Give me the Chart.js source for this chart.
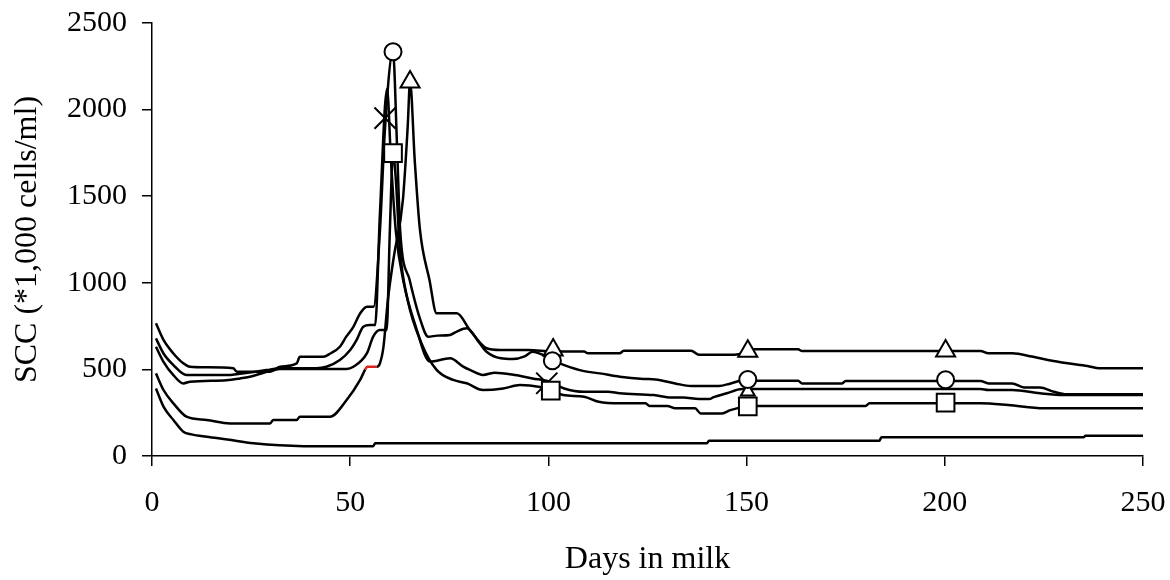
<!DOCTYPE html>
<html>
<head>
<meta charset="utf-8">
<title>SCC by days in milk</title>
<script src="https://cdn.jsdelivr.net/npm/chart.js@4.4.1/dist/chart.umd.min.js"></script>
<style>
  html, body { margin: 0; padding: 0; background: #fff; }
  #chart { display: block; }
</style>
</head>
<body>
<canvas id="chart" width="1170" height="580"></canvas>
<script>
// ── Data ──

const xTicks = [0, 50, 100, 150, 200, 250];
const yTicks = [0, 500, 1000, 1500, 2000, 2500];

// curve with the circle markers
const circleDays = [1, 2.9, 5.4, 7.9, 9.6, 13.8, 20.5, 21.4, 29.8, 32.3, 36.5, 37.3, 43.2, 45, 47.4, 49, 50.8, 52.5, 54.2, 55.9, 57.5, 58.8, 60.8, 61.8, 62.6, 65, 67.5, 69.7, 72, 75.2, 77, 79.4, 82.7, 84.4, 88, 91, 94, 96, 98, 101, 104, 109, 113, 118, 124, 127, 132, 136, 143, 146, 150, 152, 163, 164, 174, 175, 209, 211, 217, 220, 224, 227.5, 230.7, 250];
const circleSCC = [766, 670, 592, 535, 515, 512, 506, 487, 487, 515, 535, 573, 573, 592, 631, 689, 746, 823, 862, 862, 1300, 1900, 2334, 1800, 1305, 1016, 800, 689, 695, 699, 720, 737, 650, 602, 564, 560, 575, 602, 590, 554, 525, 490, 477, 458, 445, 442, 419, 404, 404, 419, 442, 435, 435, 419, 419, 433, 433, 419, 419, 396, 396, 371, 356, 356];

// curve with the triangle markers (late peak)
const triDays = [1, 2.9, 5.4, 8.7, 13.8, 19.7, 29.8, 30.6, 36.5, 37.3, 44.9, 49.1, 52.5, 53.8, 54.3, 56.7, 57.5, 58.4, 59.5, 61, 63.3, 64.5, 65.1, 66.3, 67.6, 70, 71.8, 76.9, 80.2, 84.4, 87.8, 95, 101, 109, 110, 118, 119, 136, 138, 147, 150, 152, 163, 164, 209, 211, 217, 222, 226, 231, 236, 239, 250];
const triSCC = [477, 381, 304, 227, 208, 188, 188, 208, 208, 227, 227, 323, 439, 500, 515, 515, 535, 631, 900, 1150, 1480, 1900, 2160, 1700, 1305, 1016, 824, 824, 727, 622, 612, 612, 603, 603, 593, 593, 608, 608, 585, 585, 600, 616, 616, 606, 606, 593, 593, 574, 554, 535, 520, 506, 506];

// curve with the cross markers
const crossDays = [1, 2.9, 5.4, 8.7, 18.8, 22.2, 25.6, 28.9, 32.3, 41.5, 44, 47.4, 50, 51.6, 53.3, 55, 56.3, 57.5, 59.3, 60.3, 61.5, 63.5, 66.5, 70.1, 75.2, 78.5, 80.2, 83.5, 86.5, 91.5, 96, 100.3, 104, 109, 115, 118, 126.6, 131, 134, 138, 140.6, 141.7, 145, 148.8, 209, 211, 217, 224, 230, 250];
const crossSCC = [679, 592, 525, 467, 467, 475, 485, 496, 506, 506, 515, 554, 612, 669, 746, 756, 756, 1400, 2120, 1700, 1300, 1000, 750, 545, 564, 516, 497, 468, 481, 468, 448, 429, 390, 371, 371, 362, 352, 338, 338, 329, 329, 340, 362, 387, 387, 381, 381, 362, 352, 352];

// curve with the square markers
const squareDays = [1, 2.9, 5.4, 7.9, 9.6, 18.8, 22.2, 24.7, 30.6, 32.3, 49.1, 50.8, 54.2, 55.8, 57.5, 59.2, 60, 60.8, 61.5, 62.5, 64.5, 68, 71.8, 76, 79.4, 83.5, 88.6, 92.8, 97.9, 100.4, 103.7, 109, 112.7, 118, 124.5, 125.5, 130, 132, 137, 138.4, 143.8, 145.9, 150, 152, 180, 181, 209, 216, 225, 250];
const squareSCC = [631, 544, 467, 419, 429, 438, 448, 458, 496, 502, 502, 515, 592, 689, 727, 727, 1300, 1749, 1600, 1200, 900, 650, 497, 439, 420, 381, 390, 410, 398, 381, 352, 342, 313, 304, 304, 289, 289, 275, 275, 246, 246, 265, 285, 289, 289, 304, 304, 294, 275, 275];

// lowest curve, no markers
const lowDays = [1, 2.9, 5.4, 7.9, 10, 13.8, 19, 25.6, 38.2, 55.8, 56.3, 140, 140.5, 183.5, 184, 235, 235.5, 250];
const lowSCC = [390, 285, 208, 140, 125, 111, 95, 73, 57, 57, 73, 73, 88, 88, 108, 108, 117, 117];

// marker positions
const circleMarkDays = [60.8, 101, 150.3, 200.2];
const circleMarkSCC = [2334, 550, 442, 440];
const triMarkDays = [65.1, 101.2, 150.3, 200.2];
const triMarkSCC = [2160, 612, 605, 606];
const squareMarkDays = [60.8, 100.6, 150.3, 200.2];
const squareMarkSCC = [1749, 377, 287, 308];
const crossMarkDays = [58.8, 99.6];
const crossMarkSCC = [1951, 420];
const extraTriDays = [150.3];
const extraTriSCC = [372];

// ── Helpers ──

const FONT = "'Liberation Serif', 'Times New Roman', serif";
const pts = (xs, ys) => xs.map((x, i) => ({ x, y: ys[i] }));

function lineSet(label, days, scc, extra) {
  return Object.assign({
    label,
    data: pts(days, scc),
    borderColor: "#000",
    borderWidth: 2.5,
    pointRadius: 0,
    fill: false,
    cubicInterpolationMode: "monotone",
    order: 10,
  }, extra || {});
}

function markSet(label, days, scc, style, radius, order) {
  return {
    label,
    data: pts(days, scc),
    showLine: false,
    pointStyle: style,
    pointRadius: radius,
    pointBackgroundColor: "#fff",
    pointBorderColor: "#000",
    pointBorderWidth: 2,
    order,
  };
}

const redBit = (c) => (c.p0.parsed.x >= 53.8 && c.p0.parsed.x < 56.7 ? "#e0201b" : undefined);

// fixed axis boxes so the plot area sits where it does in the figure
function fitAxis(size, key) {
  return (s) => {
    s[key] = size;
    s.paddingTop = 0;
    s.paddingBottom = 0;
    s.paddingLeft = 0;
    s.paddingRight = 0;
  };
}

new Chart(document.getElementById("chart"), {
  type: "line",
  data: {
    datasets: [
      lineSet("circle", circleDays, circleSCC),
      lineSet("triangle", triDays, triSCC, { segment: { borderColor: redBit } }),
      lineSet("cross", crossDays, crossSCC),
      lineSet("square", squareDays, squareSCC),
      lineSet("low", lowDays, lowSCC),
      markSet("extra triangle", extraTriDays, extraTriSCC, "triangle", 8, 3),
      markSet("circle marks", circleMarkDays, circleMarkSCC, "circle", 8.5, 1),
      markSet("triangle marks", triMarkDays, triMarkSCC, "triangle", 11, 1),
      markSet("square marks", squareMarkDays, squareMarkSCC, "rect", 12.5, 1),
      markSet("cross marks", crossMarkDays, crossMarkSCC, "crossRot", 15, 1),
    ],
  },
  options: {
    responsive: false,
    animation: false,
    devicePixelRatio: 1,
    layout: { autoPadding: false, padding: { top: 23, right: 27, left: 0, bottom: 0 } },
    plugins: { legend: { display: false }, tooltip: { enabled: false } },
    scales: {
      x: {
        type: "linear",
        min: 0,
        max: 250,
        afterBuildTicks: (s) => { s.ticks = xTicks.map((v) => ({ value: v })); },
        afterFit: fitAxis(124, "height"),
        ticks: { callback: (v) => String(v), font: { family: FONT, size: 30 }, color: "#000", padding: 19, maxRotation: 0, autoSkip: false },
        grid: { drawOnChartArea: false, tickLength: 10, color: "#000", lineWidth: 1.5 },
        border: { color: "#000", width: 1.5 },
        title: { display: true, text: "Days in milk", color: "#000", font: { family: FONT, size: 32 }, padding: { top: 0, bottom: 1 } },
      },
      y: {
        type: "linear",
        min: 0,
        max: 2500,
        afterBuildTicks: (s) => { s.ticks = yTicks.map((v) => ({ value: v })); },
        afterFit: fitAxis(152, "width"),
        ticks: { callback: (v) => String(v), font: { family: FONT, size: 30 }, color: "#000", padding: 15 },
        grid: { drawOnChartArea: false, tickLength: 10, color: "#000", lineWidth: 1.5 },
        border: { color: "#000", width: 1.5 },
        title: { display: true, text: "SCC (*1,000 cells/ml)", color: "#000", font: { family: FONT, size: 32 }, padding: { top: 8, bottom: 8 } },
      },
    },
  },
});
</script>
</body>
</html>
